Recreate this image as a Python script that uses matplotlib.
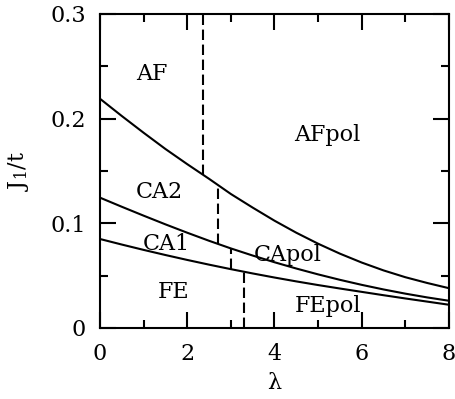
import numpy as np
import matplotlib
matplotlib.use("Agg")
import matplotlib.pyplot as plt

plt.rcParams['font.family'] = ['DejaVu Serif']
plt.rcParams['mathtext.fontset'] = 'dejavuserif'

# phase boundaries J1/t vs lambda
lam = [0, 0.5, 1, 1.5, 2, 2.5, 3, 3.5, 4, 4.5, 5, 5.5, 6, 6.5, 7, 7.5, 8]
j_top = [0.219, 0.2025, 0.1865, 0.171, 0.1565, 0.1425, 0.128, 0.115, 0.1025,
         0.091, 0.0805, 0.071, 0.0625, 0.055, 0.0485, 0.043, 0.038]
j_mid = [0.1245, 0.1158, 0.1073, 0.099, 0.091, 0.0833, 0.076, 0.0692, 0.0628,
         0.0568, 0.0512, 0.046, 0.0412, 0.0368, 0.0328, 0.0292, 0.026]
j_bot = [0.085, 0.0797, 0.0746, 0.0697, 0.065, 0.0605, 0.0562, 0.0521, 0.0482,
         0.0445, 0.041, 0.0377, 0.0345, 0.0313, 0.0282, 0.0252, 0.0222]

# vertical dashed boundaries: lambda, J low, J high
dash_lam = [2.37, 2.71, 3.01, 3.30]
dash_lo = [0.146, 0.080, 0.056, 0.0]
dash_hi = [0.30, 0.135, 0.0755, 0.0537]

# region labels
phase_names = ['AF', 'AFpol', 'CA2', 'CA1', 'FE', 'CApol', 'FEpol']
phase_x = [1.19, 5.22, 1.35, 1.52, 1.69, 4.31, 5.22]
phase_y = [0.237, 0.179, 0.124, 0.0745, 0.0284, 0.0643, 0.0156]

fig = plt.figure(figsize=(4.56, 3.99), dpi=100)
ax = fig.add_axes([0.2193, 0.178, 0.7653, 0.787])

for j in (j_top, j_mid, j_bot):
    ax.plot(lam, j, color='black', lw=1.5)

for x, lo, hi in zip(dash_lam, dash_lo, dash_hi):
    ax.plot([x, x], [lo, hi], color='black', lw=1.5, dashes=(5, 2.2))

for name, x, y in zip(phase_names, phase_x, phase_y):
    ax.text(x, y, name, ha='center', va='baseline', fontsize=16)

ax.set_xlim(0, 8)
ax.set_ylim(0, 0.3)
ax.set_xticks([0, 2, 4, 6, 8])
ax.set_xticks([1, 3, 5, 7], minor=True)
ax.set_yticks([0, 0.1, 0.2, 0.3])
ax.set_yticklabels(['0', '0.1', '0.2', '0.3'])
ax.set_yticks([0.05, 0.15, 0.25], minor=True)
ax.tick_params(which='both', direction='in', top=True, right=True, width=1.5, labelsize=16)
ax.tick_params(which='major', length=11.5)
ax.tick_params(which='minor', length=5.8)
ax.tick_params(axis='x', which='major', pad=11)
ax.tick_params(axis='y', which='major', pad=10)
for s in ax.spines.values():
    s.set_linewidth(1.5)

ax.set_xlabel('λ', fontsize=16, labelpad=5)
ax.set_ylabel(r'J$_1$/t', fontsize=16, labelpad=14)

fig.savefig('out.png', dpi=100)
